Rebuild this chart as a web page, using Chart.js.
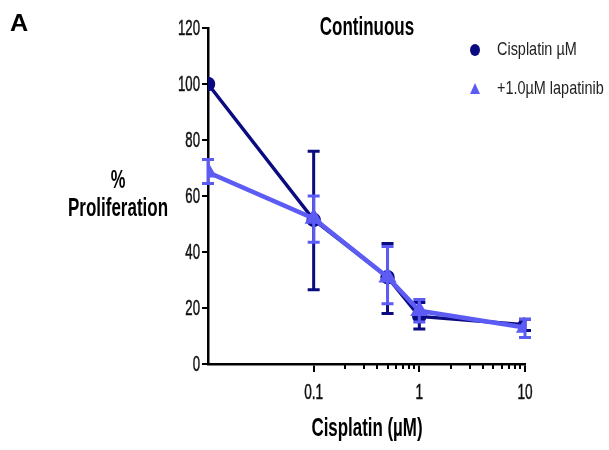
<!DOCTYPE html>
<html lang="en">
<head>
    <meta charset="UTF-8">
    <title>Continuous</title>
    <style>
        body {
            margin: 0;
            padding: 0;
            background-color: #ffffff;
        }
        .chart-container {
            position: relative;
            width: 609px;
            height: 450px;
        }
    </style>
    <script src="https://cdn.jsdelivr.net/npm/chart.js"></script>
</head>
<body>
<div class="chart-container">
    <canvas id="prolifChart" width="609" height="450"></canvas>
</div>

<script>
    // Werte
    const doses = [0.01, 0.1, 0.5, 1, 10];
    const cisplatinMean = [100, 51.5, 31, 17, 14];
    const cisplatinLow = [100, 26.5, 18, 12.5, 12];
    const cisplatinHigh = [100, 76, 43, 22, 16];
    const lapatinibMean = [68.5, 52, 31, 19, 13];
    const lapatinibLow = [64.5, 43.5, 21.5, 15, 9.5];
    const lapatinibHigh = [73, 60, 42, 23, 16];

    const majorTicks = [0.1, 1, 10];
    const minorTicks = [0.2, 0.3, 0.4, 0.5, 0.6, 0.7, 0.8, 0.9, 2, 3, 4, 5, 6, 7, 8, 9];
    const yTicks = [0, 20, 40, 60, 80, 100, 120];

    const navy = '#0b0b80';
    const lightBlue = '#5c5cf4';
    const sans = "'Liberation Sans', Arial, sans-serif";

    const errLow = [cisplatinLow, lapatinibLow];
    const errHigh = [cisplatinHigh, lapatinibHigh];

    // schmale Schrift nachbilden (Arial Narrow gibt es hier nicht)
    function narrowText(ctx, text, x, y, font, align, sx, heavy) {
        ctx.save();
        ctx.translate(x, y);
        ctx.scale(sx, 1);
        ctx.font = font;
        ctx.textAlign = align;
        ctx.textBaseline = 'middle';
        ctx.fillText(text, 0, 0);
        if (heavy) {
            ctx.strokeStyle = ctx.fillStyle;
            ctx.lineWidth = heavy;
            ctx.strokeText(text, 0, 0);
        }
        ctx.restore();
    }

    // Fehlerbalken pro Datensatz, damit die Reihenfolge stimmt
    const errorBars = {
        id: 'errorBars',
        beforeDatasetDraw(chart, args) {
            const ctx = chart.ctx;
            const ds = chart.data.datasets[args.index];
            const xs = chart.scales.x, ys = chart.scales.y;
            ctx.save();
            ctx.strokeStyle = ds.borderColor;
            ctx.lineWidth = 3;
            doses.forEach((d, i) => {
                const lo = errLow[args.index][i], hi = errHigh[args.index][i];
                if (lo === hi) return;
                const x = xs.getPixelForValue(d);
                const y1 = ys.getPixelForValue(lo), y2 = ys.getPixelForValue(hi);
                ctx.beginPath();
                ctx.moveTo(x, y1);
                ctx.lineTo(x, y2);
                ctx.moveTo(x - 6, y1);
                ctx.lineTo(x + 6, y1);
                ctx.moveTo(x - 6, y2);
                ctx.lineTo(x + 6, y2);
                ctx.stroke();
            });
            ctx.restore();
        }
    };

    // Achsenbeschriftung, kleine Striche, Titel und Legende
    const decorations = {
        id: 'decorations',
        afterDraw(chart) {
            const ctx = chart.ctx;
            const xs = chart.scales.x, ys = chart.scales.y;
            const area = chart.chartArea;
            ctx.save();
            ctx.strokeStyle = '#000';
            ctx.lineWidth = 2;
            ctx.beginPath();
            minorTicks.forEach(v => {
                const x = Math.round(xs.getPixelForValue(v));
                ctx.moveTo(x, area.bottom);
                ctx.lineTo(x, area.bottom + 5);
            });
            ctx.stroke();

            ctx.fillStyle = '#111';
            const tickFont = '22px ' + sans;
            ys.ticks.forEach(t => {
                narrowText(ctx, String(t.value), area.left - 8, ys.getPixelForValue(t.value) + 1, tickFont, 'right', 0.6, 0.5);
            });
            xs.ticks.forEach(t => {
                narrowText(ctx, String(t.value), xs.getPixelForValue(t.value), 393, tickFont, 'center', 0.62, 0.5);
            });

            ctx.fillStyle = '#000';
            narrowText(ctx, 'A', 10, 24, 'bold 24px ' + sans, 'left', 1.05);
            const bold = 'bold 25px ' + sans;
            narrowText(ctx, 'Continuous', 367, 28, bold, 'center', 0.68);
            narrowText(ctx, '%', 118, 181, bold, 'center', 0.66);
            narrowText(ctx, 'Proliferation', 118, 209, bold, 'center', 0.68);
            narrowText(ctx, 'Cisplatin (\u00b5M)', 367, 429, 'bold 26px ' + sans, 'center', 0.65);

            // Legende
            const rows = [50, 89];
            chart.data.datasets.forEach((ds, i) => {
                const y = rows[i];
                ctx.fillStyle = ds.borderColor;
                ctx.beginPath();
                if (ds.pointStyle === 'triangle') {
                    ctx.moveTo(475, y - 6);
                    ctx.lineTo(480, y + 5);
                    ctx.lineTo(470, y + 5);
                    ctx.closePath();
                } else {
                    ctx.ellipse(475, y, 5, 6, 0, 0, Math.PI * 2);
                }
                ctx.fill();
                ctx.fillStyle = '#222';
                narrowText(ctx, ds.label, 497, y, '19px ' + sans, 'left', 0.76);
            });
            ctx.restore();
        }
    };

    const ctx = document.getElementById('prolifChart').getContext('2d');
    new Chart(ctx, {
        type: 'line',
        data: {
            datasets: [
                {
                    label: 'Cisplatin \u00b5M',
                    data: doses.map((d, i) => ({x: d, y: cisplatinMean[i]})),
                    borderColor: navy,
                    backgroundColor: navy,
                    borderWidth: 3.5,
                    pointStyle: 'circle',
                    pointRadius: 5.5,
                    order: 2
                },
                {
                    label: '+1.0\u00b5M lapatinib',
                    data: doses.map((d, i) => ({x: d, y: lapatinibMean[i]})),
                    borderColor: lightBlue,
                    backgroundColor: lightBlue,
                    borderWidth: 4.5,
                    pointStyle: 'triangle',
                    pointRadius: 6,
                    order: 1
                }
            ]
        },
        options: {
            responsive: false,
            animation: false,
            layout: {
                padding: {left: 0, right: 84, top: 28, bottom: 0}
            },
            plugins: {
                legend: {display: false},
                tooltip: {enabled: false}
            },
            scales: {
                x: {
                    type: 'logarithmic',
                    min: 0.01,
                    max: 10,
                    afterBuildTicks: (scale) => {
                        scale.ticks = majorTicks.map(v => ({value: v}));
                    },
                    afterFit: (scale) => {
                        scale.height = 86;
                    },
                    border: {color: '#000', width: 2.5},
                    grid: {
                        drawOnChartArea: false,
                        color: '#000',
                        lineWidth: 2,
                        tickLength: 8
                    },
                    ticks: {
                        color: 'rgba(0,0,0,0)',
                        maxRotation: 0,
                        autoSkip: false,
                        callback: (v) => String(v)
                    }
                },
                y: {
                    min: 0,
                    max: 120,
                    afterBuildTicks: (scale) => {
                        scale.ticks = yTicks.map(v => ({value: v}));
                    },
                    afterFit: (scale) => {
                        scale.width = 208;
                    },
                    border: {color: '#000', width: 2.5},
                    grid: {
                        drawOnChartArea: false,
                        color: '#000',
                        lineWidth: 2,
                        tickLength: 6
                    },
                    ticks: {
                        color: 'rgba(0,0,0,0)'
                    }
                }
            }
        },
        plugins: [errorBars, decorations]
    });
</script>
</body>
</html>
